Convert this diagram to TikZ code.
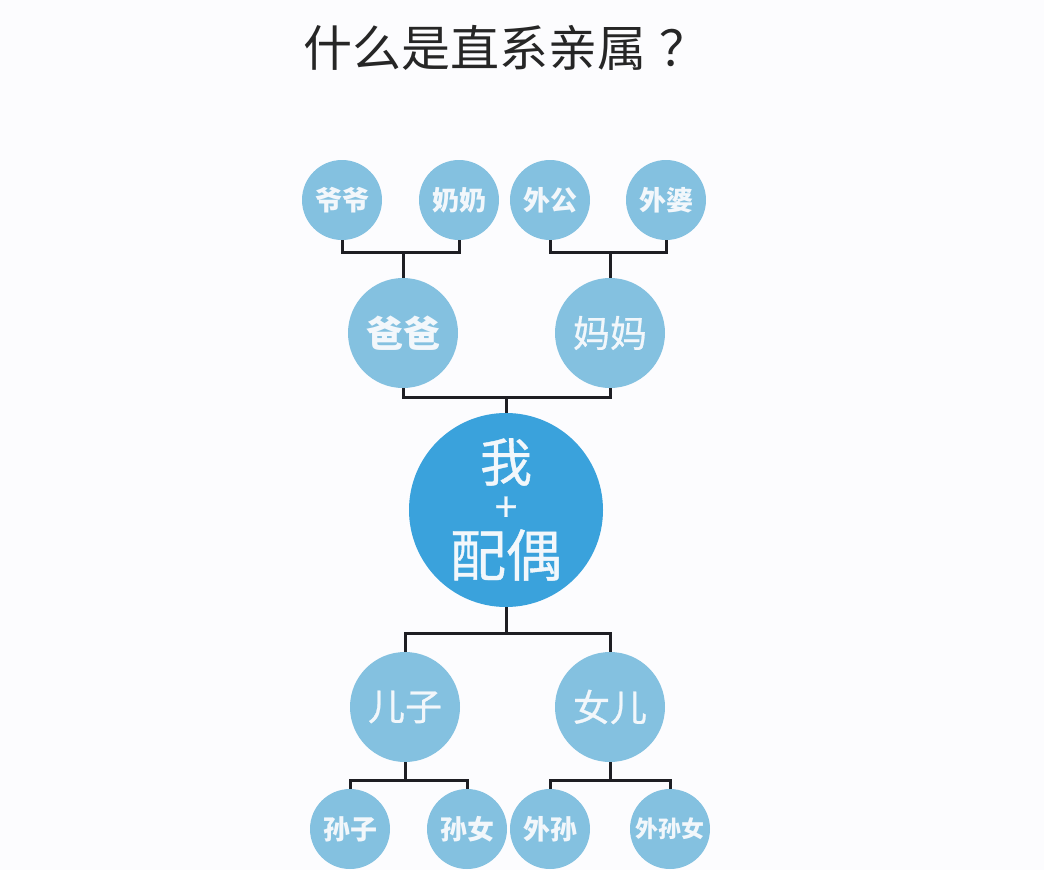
\documentclass[tikz,border=0pt]{standalone}
\usepackage{fontspec}
\newfontfamily\cjk{Noto Sans CJK SC}
\newfontfamily\cjkmed{Noto Sans CJK SC}[FakeBold=0.7]
\definecolor{lightblue}{RGB}{132,193,224}
\definecolor{mainblue}{RGB}{58,162,220}
\definecolor{linecol}{RGB}{30,30,35}
\definecolor{bgcol}{RGB}{252,252,254}
\definecolor{txtcol}{RGB}{242,247,251}
\tikzset{
  person/.style={circle, fill=lightblue, inner sep=0pt, text=txtcol, font=\cjk\bfseries},
  small/.style={person, minimum size=80pt, font=\cjk\bfseries\fontsize{27}{27}\selectfont},
  mid/.style={person, minimum size=110pt, font=\cjkmed\fontsize{37}{37}\selectfont},
  center/.style={person, fill=mainblue, minimum size=194pt},
  centertext/.style={inner sep=0pt, text=txtcol},
  conn/.style={draw=linecol, line width=3pt},
}
\begin{document}
\begin{tikzpicture}[x=1pt,y=-1pt]
\fill[bgcol] (0,0) rectangle (1044,870);
\useasboundingbox (0,0) rectangle (1044,870);
\node[font=\cjk\fontsize{49}{49}\selectfont, text=black!85] (title) at (506,48) {什么是直系亲属\hspace{0.25em}？};
% grandparents
\node[small] (yeye) at (342,200) {爷爷};
\node[small] (nainai) at (459,200) {奶奶};
\node[small] (waigong) at (550,200) {外公};
\node[small] (waipo) at (666,200) {外婆};
% parents
\node[mid, font=\cjk\bfseries\fontsize{37}{37}\selectfont] (baba) at (403,333) {爸爸};
\node[mid] (mama) at (610,333) {妈妈};
% me
\node[center] (wo) at (506,510) {};
\node[centertext, font=\cjkmed\fontsize{52}{52}\selectfont] (wotext) at (506,462) {我};
\node[centertext, font=\cjkmed\fontsize{40}{40}\selectfont] (plus) at (506,509) {+};
\node[centertext, font=\cjkmed\fontsize{56}{56}\selectfont] (peiou) at (506,555) {配偶};
% children
\node[mid] (erzi) at (405,707) {儿子};
\node[mid] (nver) at (610,707) {女儿};
% grandchildren
\node[small] (sunzi) at (350,829) {孙子};
\node[small] (sunnv) at (467,829) {孙女};
\node[small] (waisun) at (550,829) {外孙};
\node[small, font=\cjk\bfseries\fontsize{23}{23}\selectfont] (waisunnv) at (670,829) {外孙女};
% junctions
\coordinate (j1) at (403,252);
\coordinate (j2) at (610,252);
\coordinate (j3) at (506,397);
\coordinate (j4) at (506,633);
\coordinate (j5) at (405,780);
\coordinate (j6) at (610,780);
% connectors
\draw[conn] (yeye.south) |- (j1) -| (nainai.south);
\draw[conn] (j1) -- (baba.north);
\draw[conn] (waigong.south) |- (j2) -| (waipo.south);
\draw[conn] (j2) -- (mama.north);
\draw[conn] (baba.south) |- (j3) -| (mama.south);
\draw[conn] (j3) -- (wo.north);
\draw[conn] (wo.south) -- (j4);
\draw[conn] (erzi.north) |- (j4) -| (nver.north);
\draw[conn] (erzi.south) -- (j5);
\draw[conn] (sunzi.north) |- (j5) -| (sunnv.north);
\draw[conn] (nver.south) -- (j6);
\draw[conn] (waisun.north) |- (j6) -| (waisunnv.north);
\end{tikzpicture}
\end{document}
